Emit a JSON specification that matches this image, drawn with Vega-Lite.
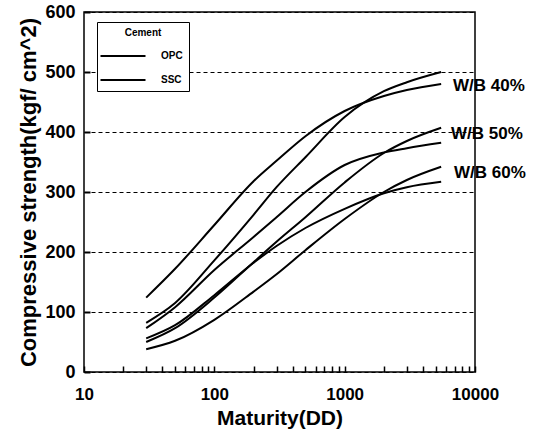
{
  "$schema": "https://vega.github.io/schema/vega-lite/v6.json",
  "autosize": {"type": "none"},
  "width": 391,
  "height": 360,
  "padding": {"left": 84, "top": 12, "right": 61, "bottom": 59},
  "background": "white",
  "config": {
    "font": "Liberation Sans",
    "view": {"stroke": "black", "strokeWidth": 1.5},
    "axis": {
      "labelFont": "Liberation Sans", "titleFont": "Liberation Sans",
      "labelFontWeight": "bold", "titleFontWeight": "bold",
      "labelColor": "black", "titleColor": "black",
      "domain": false
    }
  },
  "datasets": {
    "curves": [
      {"cement": "OPC", "wb": "40", "d": 30, "s": 124}, {"cement": "OPC", "wb": "40", "d": 50, "s": 172}, {"cement": "OPC", "wb": "40", "d": 100, "s": 245}, {"cement": "OPC", "wb": "40", "d": 200, "s": 318}, {"cement": "OPC", "wb": "40", "d": 300, "s": 352}, {"cement": "OPC", "wb": "40", "d": 500, "s": 393}, {"cement": "OPC", "wb": "40", "d": 1000, "s": 435}, {"cement": "OPC", "wb": "40", "d": 2000, "s": 460}, {"cement": "OPC", "wb": "40", "d": 3000, "s": 470}, {"cement": "OPC", "wb": "40", "d": 5500, "s": 480},
      {"cement": "SSC", "wb": "40", "d": 30, "s": 82}, {"cement": "SSC", "wb": "40", "d": 50, "s": 115}, {"cement": "SSC", "wb": "40", "d": 100, "s": 186}, {"cement": "SSC", "wb": "40", "d": 200, "s": 262}, {"cement": "SSC", "wb": "40", "d": 300, "s": 308}, {"cement": "SSC", "wb": "40", "d": 500, "s": 358}, {"cement": "SSC", "wb": "40", "d": 1000, "s": 425}, {"cement": "SSC", "wb": "40", "d": 2000, "s": 468}, {"cement": "SSC", "wb": "40", "d": 3000, "s": 483}, {"cement": "SSC", "wb": "40", "d": 5500, "s": 500},
      {"cement": "OPC", "wb": "50", "d": 30, "s": 73}, {"cement": "OPC", "wb": "50", "d": 50, "s": 108}, {"cement": "OPC", "wb": "50", "d": 100, "s": 170}, {"cement": "OPC", "wb": "50", "d": 200, "s": 225}, {"cement": "OPC", "wb": "50", "d": 300, "s": 258}, {"cement": "OPC", "wb": "50", "d": 500, "s": 300}, {"cement": "OPC", "wb": "50", "d": 1000, "s": 345}, {"cement": "OPC", "wb": "50", "d": 2000, "s": 366}, {"cement": "OPC", "wb": "50", "d": 3000, "s": 373}, {"cement": "OPC", "wb": "50", "d": 5500, "s": 382},
      {"cement": "SSC", "wb": "50", "d": 30, "s": 50}, {"cement": "SSC", "wb": "50", "d": 50, "s": 73}, {"cement": "SSC", "wb": "50", "d": 100, "s": 124}, {"cement": "SSC", "wb": "50", "d": 200, "s": 183}, {"cement": "SSC", "wb": "50", "d": 300, "s": 217}, {"cement": "SSC", "wb": "50", "d": 500, "s": 258}, {"cement": "SSC", "wb": "50", "d": 1000, "s": 316}, {"cement": "SSC", "wb": "50", "d": 2000, "s": 365}, {"cement": "SSC", "wb": "50", "d": 3000, "s": 385}, {"cement": "SSC", "wb": "50", "d": 5500, "s": 407},
      {"cement": "OPC", "wb": "60", "d": 30, "s": 56}, {"cement": "OPC", "wb": "60", "d": 50, "s": 78}, {"cement": "OPC", "wb": "60", "d": 100, "s": 128}, {"cement": "OPC", "wb": "60", "d": 200, "s": 182}, {"cement": "OPC", "wb": "60", "d": 300, "s": 210}, {"cement": "OPC", "wb": "60", "d": 500, "s": 240}, {"cement": "OPC", "wb": "60", "d": 1000, "s": 272}, {"cement": "OPC", "wb": "60", "d": 2000, "s": 298}, {"cement": "OPC", "wb": "60", "d": 3000, "s": 308}, {"cement": "OPC", "wb": "60", "d": 5500, "s": 317},
      {"cement": "SSC", "wb": "60", "d": 30, "s": 38}, {"cement": "SSC", "wb": "60", "d": 50, "s": 52}, {"cement": "SSC", "wb": "60", "d": 100, "s": 87}, {"cement": "SSC", "wb": "60", "d": 200, "s": 134}, {"cement": "SSC", "wb": "60", "d": 300, "s": 163}, {"cement": "SSC", "wb": "60", "d": 500, "s": 203}, {"cement": "SSC", "wb": "60", "d": 1000, "s": 255}, {"cement": "SSC", "wb": "60", "d": 2000, "s": 300}, {"cement": "SSC", "wb": "60", "d": 3000, "s": 320}, {"cement": "SSC", "wb": "60", "d": 5500, "s": 342}
    ],
    "labels": [
      {"label": "W/B 40%", "d": 6780, "s": 477},
      {"label": "W/B 50%", "d": 6550, "s": 397},
      {"label": "W/B 60%", "d": 6900, "s": 332}
    ]
  },
  "layer": [
    {
      "data": {"name": "curves"},
      "mark": {"type": "line", "interpolate": "monotone", "strokeWidth": 2, "clip": false},
      "encoding": {
        "x": {
          "field": "d", "type": "quantitative",
          "scale": {"type": "log", "domain": [10, 10000]},
          "axis": {
            "orient": "bottom", "title": "Maturity(DD)", "titleFontSize": 21, "titlePadding": 5,
            "values": [10, 20, 30, 40, 50, 60, 70, 80, 90, 100, 200, 300, 400, 500, 600, 700, 800, 900, 1000, 2000, 3000, 4000, 5000, 6000, 7000, 8000, 9000, 10000],
            "labelExpr": "indexof([10,100,1000,10000], datum.value) >= 0 ? format(datum.value, 'd') : ''",
            "labelFontSize": 17, "offset": -6, "tickSize": 6, "tickColor": "black", "tickWidth": 1.5,
            "labelPadding": 14, "grid": false, "labelFlush": false, "labelOverlap": false
          }
        },
        "y": {
          "field": "s", "type": "quantitative",
          "scale": {"domain": [0, 600]},
          "axis": {
            "orient": "left", "title": "Compressive strength(kgf/ cm^2)", "titleFontSize": 22, "titlePadding": 4,
            "values": [0, 100, 200, 300, 400, 500, 600],
            "labelFontSize": 18, "offset": -6, "tickSize": 6, "tickColor": "black", "tickWidth": 2, "labelPadding": 9,
            "grid": true, "gridColor": "black", "gridDash": [4, 3], "gridWidth": 1
          }
        },
        "color": {
          "field": "cement", "type": "nominal",
          "scale": {"domain": ["OPC", "SSC"], "range": ["black", "black"]},
          "legend": {
            "title": "Cement", "orient": "none", "legendX": 13, "legendY": 10,
            "titleFontSize": 10, "labelFontSize": 10, "titleFontWeight": "bold", "labelFontWeight": "bold",
            "titleAnchor": "middle", "titleColor": "black", "labelColor": "black", "titlePadding": 2,
            "symbolType": "M-1.5,0H1.5", "symbolStrokeWidth": 2, "symbolSize": 900, "symbolFillColor": "transparent", "symbolOffset": 4,
            "strokeColor": "black", "padding": 6, "fillColor": "white", "rowPadding": 3, "labelOffset": 22
          }
        },
        "detail": {"field": "wb", "type": "nominal"}
      }
    },
    {
      "data": {"name": "labels"},
      "mark": {"type": "text", "align": "left", "baseline": "middle", "fontSize": 17, "fontWeight": "bold", "font": "Liberation Sans", "color": "black", "clip": false},
      "encoding": {
        "x": {"field": "d", "type": "quantitative", "scale": {"type": "log", "domain": [10, 10000]}},
        "y": {"field": "s", "type": "quantitative", "scale": {"domain": [0, 600]}},
        "text": {"field": "label", "type": "nominal"}
      }
    }
  ]
}
